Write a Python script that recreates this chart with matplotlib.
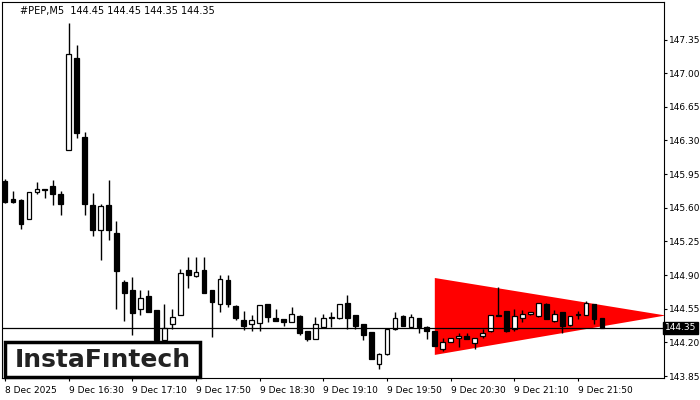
import matplotlib
matplotlib.use("Agg")
import matplotlib.pyplot as plt
from matplotlib.patches import Rectangle

opens  = [145.88,145.69,145.68,145.48,145.76,145.80,145.83,145.74,146.20,147.16,
          146.34,145.63,145.37,145.63,145.34,144.83,144.75,144.55,144.68,144.54,
          144.22,144.39,144.49,144.95,144.89,144.95,144.75,144.60,144.85,144.58,
          144.43,144.39,144.40,144.60,144.45,144.44,144.41,144.47,144.32,144.24,
          144.36,144.45,144.45,144.61,144.49,144.39,144.31,143.98,144.08,144.34,
          144.47,144.36,144.45,144.36,144.32,144.13,144.20,144.25,144.27,144.19,
          144.27,144.32,144.49,144.53,144.34,144.45,144.50,144.47,144.60,144.42,
          144.52,144.38,144.48,144.49,144.60,144.45]
closes = [145.66,145.66,145.43,145.76,145.80,145.78,145.74,145.64,147.20,146.38,
          145.64,145.37,145.62,145.37,144.94,144.71,144.51,144.66,144.52,144.22,
          144.35,144.46,144.92,144.90,144.93,144.71,144.62,144.86,144.60,144.45,
          144.37,144.43,144.59,144.46,144.42,144.41,144.50,144.30,144.24,144.39,
          144.45,144.46,144.60,144.45,144.37,144.28,144.03,144.08,144.34,144.45,
          144.37,144.46,144.36,144.32,144.16,144.20,144.25,144.26,144.24,144.25,
          144.30,144.49,144.47,144.32,144.47,144.50,144.51,144.61,144.44,144.50,
          144.37,144.47,144.48,144.61,144.44,144.35]
highs  = [145.90,145.77,145.69,145.76,145.87,145.80,145.89,145.77,147.52,147.29,
          146.39,145.75,145.64,145.89,145.46,144.85,144.88,144.75,144.74,144.54,
          144.60,144.55,144.96,145.09,145.09,145.09,144.75,144.90,144.90,144.59,
          144.53,144.48,144.59,144.60,144.55,144.44,144.57,144.48,144.32,144.46,
          144.50,144.52,144.60,144.69,144.49,144.39,144.31,144.09,144.34,144.52,
          144.49,144.50,144.45,144.37,144.32,144.25,144.25,144.30,144.30,144.25,
          144.34,144.49,144.78,144.53,144.55,144.54,144.52,144.61,144.61,144.54,
          144.52,144.47,144.53,144.63,144.60,144.45]
lows   = [145.65,145.65,145.38,145.48,145.74,145.70,145.63,145.53,146.20,146.33,
          145.53,145.31,145.06,145.27,144.55,144.42,144.28,144.48,144.52,144.17,
          144.20,144.34,144.49,144.77,144.88,144.71,144.26,144.52,144.57,144.43,
          144.33,144.32,144.32,144.41,144.42,144.37,144.41,144.28,144.21,144.24,
          144.36,144.36,144.44,144.34,144.34,144.23,144.03,143.92,144.07,144.33,
          144.37,144.35,144.30,144.24,144.16,144.11,144.20,144.15,144.24,144.13,
          144.25,144.31,144.47,144.31,144.32,144.41,144.48,144.46,144.44,144.41,
          144.30,144.37,144.44,144.49,144.39,144.35]

yticks = [147.35,147.00,146.65,146.30,145.95,145.60,145.25,144.90,144.55,144.20,143.85]
xtick_pos = [0,8,16,24,32,40,48,56,64,72]
xtick_labels = ["8 Dec 2025","9 Dec 16:30","9 Dec 17:10","9 Dec 17:50","9 Dec 18:30",
                "9 Dec 19:10","9 Dec 19:50","9 Dec 20:30","9 Dec 21:10","9 Dec 21:50"]
tri_x = [54, 54, 83]
tri_y = [144.87, 144.07, 144.48]
current = 144.35

fig = plt.figure(figsize=(7,4), dpi=100)
ax = fig.add_axes([0.003, 0.055, 0.945, 0.94])
ax.fill(tri_x, tri_y, color="#ff0000", zorder=1, lw=0)
for i,(o,c,h,l) in enumerate(zip(opens,closes,highs,lows)):
    ax.vlines(i, l, h, color="black", lw=1, zorder=2)
    bot = min(o,c); ht = max(abs(c-o), 0.012)
    fc = "white" if c > o else "black"
    ax.add_patch(Rectangle((i-0.3, bot), 0.6, ht, facecolor=fc, edgecolor="black", lw=0.9, zorder=3))
ax.axhline(current, color="black", lw=0.9, zorder=4)
ax.set_xlim(-0.375, 82.75)
ax.set_ylim(143.83, 147.74)
ax.yaxis.tick_right()
ax.set_yticks(yticks)
ax.set_yticklabels([f"{v:.2f}" for v in yticks], fontsize=6.5)
ax.set_xticks(xtick_pos)
ax.set_xticklabels(xtick_labels, fontsize=6.5, ha="left")
ax.tick_params(length=2.5, pad=1.5)
ax.tick_params(axis="x", pad=3)
for s in ax.spines.values():
    s.set_linewidth(0.8)
ax.text(1.002, current, f"{current:.2f}", transform=ax.get_yaxis_transform(), fontsize=6.5,
        color="white", va="center", ha="left",
        bbox=dict(boxstyle="square,pad=0.2", fc="black", ec="black"), zorder=6)
ax.text(0.027, 0.99, "#PEP,M5  144.45 144.45 144.35 144.35", transform=ax.transAxes,
        fontsize=7, va="top", ha="left")
fig.patches.append(Rectangle((5/700, 23/400), 195/700, 35/400, transform=fig.transFigure,
                             facecolor="white", edgecolor="black", lw=2.5, zorder=10))
fig.text(103/700, 40/400, "InstaFıntech", fontsize=18, ha="center", va="center",
         color="#222222", fontweight="bold", zorder=11)
fig.savefig("out.png", dpi=100)
